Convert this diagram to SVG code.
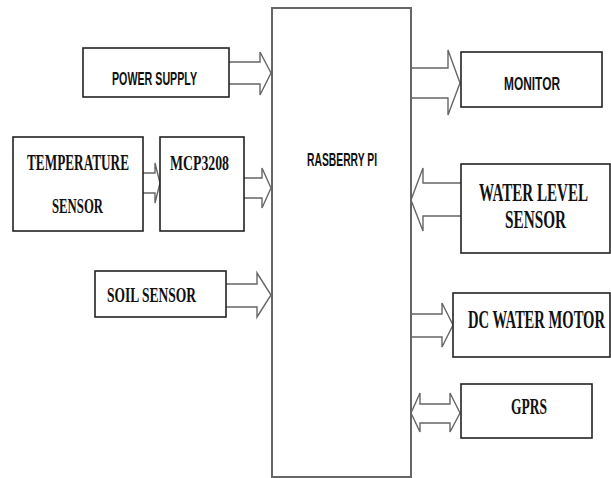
<svg xmlns="http://www.w3.org/2000/svg" width="611" height="478" viewBox="0 0 611 478">
<style>
.box{fill:#fff;stroke:#222;stroke-width:1.6}
.rpi{fill:#fff;stroke:#666;stroke-width:2}
.arr{fill:#fff;stroke:#666;stroke-width:1.4;stroke-linejoin:miter}
.sf{font-family:"Liberation Serif","Times New Roman",serif;font-weight:bold;fill:#111}
.ss{font-family:"Liberation Sans",Arial,sans-serif;font-weight:bold;fill:#111}
</style>
<rect width="611" height="478" fill="#fff"/>
<g id="connectors">
<path class="arr" d="M229 62 L260 62 L260 52 L271 73 L260 95 L260 84 L229 84"/>
<path class="arr" d="M143 173 L155 173 L155 163 L160 183 L155 203 L155 193 L143 193"/>
<path class="arr" d="M244 178 L262 178 L262 168 L271 188 L262 208 L262 198 L244 198"/>
<path class="arr" d="M226 284 L257 284 L257 273 L271 295 L257 317 L257 307 L226 307"/>
<path class="arr" d="M411 68 L448 68 L448 50 L460 83 L448 115 L448 98 L411 98"/>
<path class="arr" d="M461 183 L423 183 L423 168 L411 200 L423 231 L423 216 L461 216"/>
<path class="arr" d="M411 314 L442 314 L442 303 L453 325 L442 347 L442 337 L411 337"/>
<path class="arr" d="M411 413 L420 393 L420 404 L450 404 L450 393 L460 413 L450 432 L450 423 L420 423 L420 432 Z"/>
</g>
<g id="rpi">
<rect class="rpi" x="272" y="8" width="139" height="469"/>
<text class="ss" x="307" y="166" font-size="18" textLength="70" lengthAdjust="spacingAndGlyphs">RASBERRY PI</text>
</g>
<g id="power">
<rect class="box" x="83" y="48" width="146" height="49"/>
<text class="ss" x="112" y="85" font-size="19" textLength="85" lengthAdjust="spacingAndGlyphs">POWER SUPPLY</text>
</g>
<g id="temp">
<rect class="box" x="13" y="137" width="130" height="94"/>
<text class="sf" x="27" y="170" font-size="23" textLength="102" lengthAdjust="spacingAndGlyphs">TEMPERATURE</text>
<text class="sf" x="52" y="213" font-size="22" textLength="51" lengthAdjust="spacingAndGlyphs">SENSOR</text>
</g>
<g id="mcp">
<rect class="box" x="160" y="137" width="84" height="94"/>
<text class="sf" x="170" y="170" font-size="21" textLength="59" lengthAdjust="spacingAndGlyphs">MCP3208</text>
</g>
<g id="soil">
<rect class="box" x="95" y="271" width="131" height="46"/>
<text class="sf" x="107" y="302" font-size="22" textLength="89" lengthAdjust="spacingAndGlyphs">SOIL SENSOR</text>
</g>
<g id="monitor">
<rect class="box" x="461" y="52" width="141" height="55"/>
<text class="ss" x="504" y="90" font-size="18" textLength="56" lengthAdjust="spacingAndGlyphs">MONITOR</text>
</g>
<g id="water">
<rect class="box" x="461" y="164" width="149" height="89"/>
<text class="sf" x="479" y="201" font-size="25" textLength="109" lengthAdjust="spacingAndGlyphs">WATER LEVEL</text>
<text class="sf" x="505" y="228" font-size="25" textLength="61" lengthAdjust="spacingAndGlyphs">SENSOR</text>
</g>
<g id="motor">
<rect class="box" x="453" y="293" width="157" height="64"/>
<text class="sf" x="468" y="328" font-size="26" textLength="137" lengthAdjust="spacingAndGlyphs">DC WATER MOTOR</text>
</g>
<g id="gprs">
<rect class="box" x="461" y="384" width="131" height="54"/>
<text class="sf" x="511" y="414" font-size="23" textLength="36" lengthAdjust="spacingAndGlyphs">GPRS</text>
</g>
</svg>
